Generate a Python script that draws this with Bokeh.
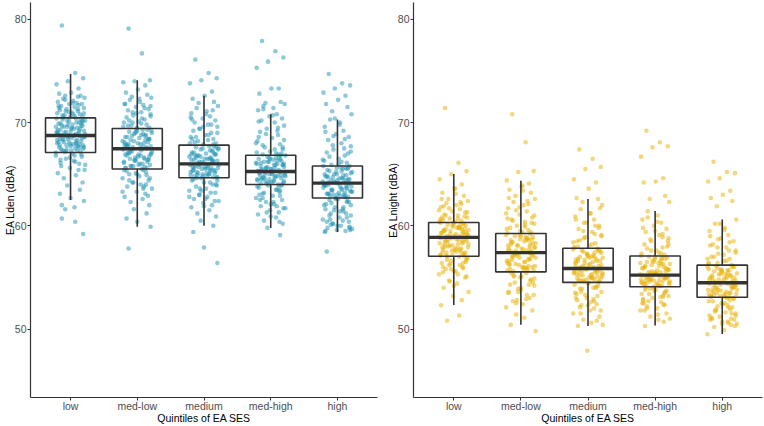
from bokeh.plotting import figure
from bokeh.layouts import row
from bokeh.embed import file_html
from bokeh.resources import INLINE

categories = ["low", "med-low", "medium", "med-high", "high"]
x_title = "Quintiles of EA SES"

# Box statistics: whisker low, Q1, median, Q3, whisker high
lden_wlo = [62.5, 59.9, 60.0, 59.8, 59.4]
lden_q1 = [67.1, 65.5, 64.65, 64.0, 62.7]
lden_med = [68.75, 67.47, 66.0, 65.26, 64.13]
lden_q3 = [70.45, 69.42, 67.82, 66.83, 65.8]
lden_whi = [74.7, 74.1, 72.6, 70.8, 70.3]

lnight_wlo = [52.34, 50.42, 50.29, 50.35, 49.52]
lnight_q1 = [57.05, 55.54, 54.52, 54.1, 53.08]
lnight_med = [58.88, 57.4, 55.87, 55.22, 54.49]
lnight_q3 = [60.32, 59.26, 57.82, 57.08, 56.19]
lnight_whi = [65.03, 64.36, 62.6, 61.44, 60.61]

# horizontal jitter (category units)
jitter = [-0.13, 0.07, 0.19, -0.04, -0.21, 0.12, 0.01, -0.17, 0.15, -0.08,
          0.21, -0.11, 0.04, -0.19, 0.09, -0.02, 0.17, -0.14, 0.06, 0.2,
          -0.06, -0.16, 0.11, 0.02, -0.2, 0.14, -0.09, 0.18, -0.01, 0.08,
          -0.12, 0.22, -0.05, 0.13, -0.18, 0.03, 0.16, -0.1, -0.22, 0.1,
          0.05, -0.15, 0.2, -0.07, 0.0, 0.12, -0.19, 0.08, -0.03, 0.18,
          -0.13, 0.14, -0.21, 0.06, -0.08, 0.21, 0.02, -0.16, 0.1, -0.11,
          0.16, -0.02, -0.2, 0.04, 0.19, -0.06, 0.11, -0.17, 0.07, -0.14,
          0.01, 0.15, -0.09, 0.2, -0.04, -0.18, 0.09, 0.13, -0.12, 0.03,
          -0.22, 0.17, -0.07, 0.05, -0.15, 0.22, -0.01, 0.12, -0.19, 0.08,
          -0.1, 0.18, -0.05, 0.14, -0.16, 0.0, 0.2, -0.13, 0.06, -0.08]
jitter2 = [0.03, -0.18, 0.11, -0.07, 0.2, -0.12, 0.06, -0.21, 0.15, -0.02,
           0.09, -0.15, 0.18, -0.05, 0.01, -0.19, 0.13, -0.09, 0.22, -0.13,
           0.05, -0.03, 0.17, -0.2, 0.08, -0.1, 0.14, -0.16, 0.0, 0.19,
           -0.06, 0.1, -0.22, 0.16, -0.01, 0.07, -0.14, 0.21, -0.08, 0.12,
           -0.17, 0.04, -0.11, 0.18, -0.04, 0.02, -0.2, 0.14, -0.12, 0.09,
           0.2, -0.07, 0.06, -0.15, 0.11, -0.02, 0.16, -0.18, 0.0, 0.13]

# ---- EA Lden points (dBA) ----
lden_low = [79.4, 74.8, 74.3, 74.0, 73.7, 73.3, 72.9, 72.8, 72.6, 72.6, 72.4, 72.3, 72.1, 72.0, 71.9,
            71.8, 71.8, 71.6, 71.5, 71.4, 71.3, 71.2, 71.1, 71.0, 70.9, 70.8, 70.7, 70.6, 70.5,
            70.4, 70.3, 70.2, 70.2, 70.0, 69.9, 69.8, 69.7, 69.6, 69.6, 69.5, 69.4, 69.3, 69.2, 69.1,
            69.1, 69.0, 68.9, 68.9, 68.8, 70.1, 69.7, 69.4, 69.0, 68.8,
            68.7, 68.6, 68.5, 68.4, 68.3, 68.3, 68.2, 68.1, 68.0, 67.9, 67.8, 67.8, 67.7, 67.6, 67.5,
            67.4, 67.3, 67.2, 67.2, 68.6, 68.4, 68.1, 67.9, 67.6, 67.3,
            67.0, 66.8, 66.7, 66.5, 66.3, 66.1, 65.9, 65.6, 65.4, 65.1, 64.9, 64.6, 64.2, 63.9, 63.5,
            63.1, 62.7, 62.4, 62.0, 61.8, 61.6, 60.7, 60.4, 59.2]
lden_low_core = [71.9, 71.6, 71.3, 71.1, 70.9, 70.7, 70.6, 70.4, 70.3, 70.1, 70.0, 69.9, 69.7, 69.6,
                 69.4, 69.3, 69.2, 69.0, 68.9, 68.8, 68.7, 68.6, 68.5, 68.3, 68.2, 68.1, 67.9, 67.8,
                 67.7, 67.5, 67.4, 67.3, 67.1, 66.9, 66.6, 66.2, 65.8, 65.4, 72.2, 71.7, 71.4, 70.8,
                 70.5, 70.2, 69.8, 69.5, 69.1, 68.7, 68.4, 68.0, 67.6, 67.2, 66.8, 66.4, 72.5, 71.0,
                 69.9, 68.9, 67.9, 66.0]
lden_medlow = [79.1, 76.7, 74.1, 74.0, 73.9, 73.6, 73.2, 72.9, 72.7, 72.5, 72.4, 72.2, 72.0, 71.8,
               71.7, 71.5, 71.3, 71.2, 71.0, 70.8, 70.7, 70.5, 70.3, 70.1, 70.0, 69.8, 69.7, 69.5,
               69.4, 69.3, 69.1, 69.0, 68.9, 68.8, 68.6, 68.5, 68.4, 68.3, 68.2, 68.0, 67.9, 67.8,
               67.7, 67.6, 69.2, 68.7, 68.1, 67.6, 69.0, 68.4, 67.9, 67.5,
               67.4, 67.3, 67.2, 67.0, 66.9, 66.8, 66.6, 66.5, 66.4, 66.3, 66.1, 66.0, 65.9, 65.8,
               65.7, 65.6, 65.5, 67.1, 66.7, 66.2, 65.8, 66.9, 66.4, 65.6,
               65.4, 65.2, 65.0, 64.8, 64.6, 64.4, 64.2, 64.0, 63.8, 63.6, 63.3, 63.1, 62.8, 62.6,
               62.3, 62.0, 61.6, 61.2, 60.7, 60.4, 59.9, 57.8]
lden_medlow_core = [72.3, 71.8, 71.4, 71.0, 70.6, 70.2, 69.9, 69.6, 69.3, 69.1, 68.9, 68.6, 68.4,
                    68.2, 68.0, 67.8, 67.6, 67.4, 67.2, 67.0, 66.8, 66.6, 66.4, 66.2, 66.0, 65.8,
                    65.6, 65.3, 65.0, 64.6, 64.2, 63.8, 63.3, 62.9, 70.9, 70.4, 69.7, 69.2, 68.7,
                    68.3, 67.9, 67.5, 67.1, 66.7, 66.3, 65.9, 65.4, 64.9, 64.4, 63.6, 71.6, 70.0,
                    68.8, 67.7, 66.5, 65.1, 68.1, 66.9, 69.5, 64.0]
lden_medium = [76.1, 74.8, 74.3, 74.1, 73.8, 73.0, 72.6, 72.3, 72.0, 71.9, 71.6, 71.4, 71.1, 70.9,
               70.6, 70.4, 70.2, 70.0, 69.8, 69.6, 69.4, 69.2, 69.0, 68.8, 68.6, 68.4, 68.2, 68.0, 67.9,
               67.7, 67.6, 67.5, 67.4, 67.2, 67.1, 67.0, 66.9, 66.8, 66.7, 66.6, 66.5, 66.4, 66.3,
               66.2, 66.1, 67.3, 66.9, 66.5, 66.2, 67.6, 66.8, 66.3,
               65.9, 65.8, 65.7, 65.6, 65.5, 65.4, 65.3, 65.2, 65.1, 65.0, 64.9, 64.8, 64.7, 65.9,
               65.6, 65.3, 65.0, 64.8, 65.7, 65.4, 65.1, 64.7,
               64.6, 64.4, 64.2, 64.0, 63.8, 63.6, 63.4, 63.2, 63.0, 62.8, 62.6, 62.4, 62.2, 62.0,
               61.8, 61.5, 61.2, 60.9, 60.5, 60.0, 59.4, 57.9, 56.4]
lden_medium_core = [70.8, 70.3, 69.8, 69.4, 69.0, 68.6, 68.3, 68.0, 67.7, 67.5, 67.3, 67.1, 66.9,
                    66.7, 66.5, 66.4, 66.2, 66.1, 65.9, 65.8, 65.6, 65.5, 65.3, 65.2, 65.0, 64.9,
                    64.7, 64.5, 64.2, 63.9, 63.6, 63.2, 62.8, 62.4, 69.6, 68.8, 68.1, 67.4, 66.8,
                    66.3, 65.7, 65.1, 64.6, 64.0, 63.4, 62.6, 70.5, 67.9, 66.6, 65.4, 64.4, 63.0,
                    66.0, 65.6, 66.5, 64.8, 67.0, 68.4, 61.9, 71.2]
lden_medhigh = [77.9, 76.9, 76.3, 75.9, 75.3, 73.3, 73.3, 72.8, 72.0, 71.9, 71.8, 71.6, 71.4, 71.2,
                70.8, 70.6, 70.4, 70.2, 70.0, 69.7, 69.4, 69.1, 68.8, 68.5, 68.2, 67.9, 67.6, 67.4,
                67.2, 67.0, 66.9,
                66.8, 66.7, 66.6, 66.5, 66.4, 66.3, 66.2, 66.1, 66.0, 65.9, 65.8, 65.7, 65.6, 65.5,
                65.4, 65.3, 66.6, 66.2, 65.9, 65.5, 66.4, 66.0, 65.6,
                65.2, 65.1, 65.0, 64.9, 64.8, 64.7, 64.6, 64.5, 64.4, 64.3, 64.2, 64.1, 64.0, 65.1,
                64.8, 64.5, 64.2, 64.9, 64.6, 64.3,
                63.9, 63.7, 63.5, 63.3, 63.1, 62.9, 62.7, 62.5, 62.3, 62.1, 61.9, 61.7, 61.5, 61.3,
                61.1, 60.8, 60.5, 60.2, 59.8, 59.1]
lden_medhigh_core = [70.7, 70.1, 69.5, 68.9, 68.3, 67.8, 67.4, 67.1, 66.8, 66.6, 66.3, 66.1, 65.9,
                     65.7, 65.5, 65.3, 65.2, 65.0, 64.8, 64.6, 64.4, 64.2, 64.0, 63.8, 63.5, 63.2,
                     62.9, 62.5, 62.1, 61.7, 61.3, 69.2, 68.0, 67.0, 66.5, 65.9, 65.4, 64.9, 64.3,
                     63.7, 63.0, 62.3, 71.3, 67.6, 66.2, 65.1, 64.5, 63.4, 62.7, 61.9, 66.0, 65.6,
                     64.7, 64.1, 66.9, 65.0, 63.9, 68.6, 60.9, 60.4]
lden_high = [74.7, 73.8, 73.6, 73.3, 72.9, 72.6, 72.2, 71.8, 71.5, 71.1, 70.8, 70.3, 70.0, 69.6,
             69.2, 68.9, 68.6, 68.3, 68.0, 67.7, 67.4, 67.1, 66.8, 66.5, 66.3, 66.1, 65.9,
             65.8, 65.6, 65.5, 65.3, 65.2, 65.0, 64.9, 64.8, 64.6, 64.5, 64.4, 64.3, 64.2, 65.7,
             65.4, 65.1, 64.7, 64.4, 65.6, 65.0, 64.6, 64.2,
             64.1, 64.0, 63.9, 63.7, 63.6, 63.5, 63.3, 63.2, 63.1, 63.0, 62.9, 62.8, 62.7, 64.0,
             63.8, 63.4, 63.0, 62.8, 63.9, 63.5, 63.1,
             62.6, 62.4, 62.2, 62.0, 61.8, 61.6, 61.4, 61.2, 61.0, 60.8, 60.6, 60.4, 60.2, 60.0,
             59.8, 59.7, 59.6, 59.5, 59.4, 60.5, 60.1, 59.9, 61.5, 62.3, 57.5]
lden_high_core = [69.8, 69.1, 68.4, 67.8, 67.2, 66.7, 66.2, 65.8, 65.5, 65.2, 64.9, 64.7, 64.5, 64.3,
                  64.1, 63.9, 63.7, 63.5, 63.3, 63.1, 62.9, 62.6, 62.3, 62.0, 61.6, 61.2, 60.8,
                  60.4, 60.0, 59.6, 68.7, 67.5, 66.4, 65.6, 65.0, 64.6, 64.2, 63.8, 63.4, 62.8,
                  62.1, 61.4, 60.6, 59.8, 70.4, 66.0, 64.0, 63.6, 62.5, 61.8, 61.0, 60.2, 65.3,
                  64.8, 63.2, 62.7, 67.0, 59.5, 63.0, 64.4]

# ---- EA Lnight points (dBA) ----
lnight_low = [71.4, 66.1, 65.3, 65.0, 64.5, 64.0, 63.6, 63.2, 62.9, 62.6, 62.4, 62.2, 62.0, 61.8,
              61.6, 61.4, 61.3, 61.1, 61.0, 60.8, 60.7, 60.6, 60.5, 60.4,
              60.3, 60.2, 60.1, 60.0, 59.9, 59.8, 59.7, 59.6, 59.5, 59.4, 59.3, 59.2, 59.1, 59.0,
              58.9, 60.1, 59.8, 59.5, 59.2, 58.9, 60.2, 59.7, 59.3, 59.0,
              58.8, 58.7, 58.6, 58.4, 58.3, 58.2, 58.0, 57.9, 57.8, 57.7, 57.5, 57.4, 57.3, 57.2,
              57.1, 58.7, 58.5, 58.1, 57.8, 57.4, 58.6, 58.2, 57.6, 57.1,
              57.0, 56.8, 56.6, 56.4, 56.2, 56.0, 55.8, 55.6, 55.3, 55.0, 54.7, 54.4, 54.0, 53.6,
              53.2, 52.8, 52.3, 51.3, 50.8, 56.7, 56.3, 55.9, 55.5]
lnight_low_core = [63.1, 62.6, 62.1, 61.7, 61.3, 61.0, 60.7, 60.4, 60.2, 60.0, 59.8, 59.6, 59.4,
                   59.2, 59.0, 58.8, 58.6, 58.4, 58.2, 58.0, 57.8, 57.6, 57.4, 57.2, 57.0, 56.7,
                   56.4, 56.0, 55.6, 55.1, 54.6, 62.3, 61.5, 60.9, 60.3, 59.9, 59.5, 59.1, 58.7,
                   58.3, 57.9, 57.5, 57.1, 56.5, 55.8, 63.6, 60.6, 59.3, 58.5, 57.7, 56.9, 56.2,
                   55.3, 61.9, 58.9, 58.1, 59.7, 60.8, 54.2, 57.3]
lnight_medlow = [70.8, 68.1, 65.3, 65.2, 64.4, 64.1, 63.8, 63.5, 63.2, 62.9, 62.6, 62.3, 62.0, 61.7,
                 61.4, 61.1, 60.8, 60.6, 60.4, 60.2, 60.0, 59.8, 59.6, 59.4, 59.3,
                 59.2, 59.0, 58.9, 58.7, 58.6, 58.4, 58.3, 58.1, 58.0, 57.8, 57.7, 57.5, 57.4, 59.1,
                 58.8, 58.5, 58.2, 57.9, 57.6, 59.0, 58.6, 58.1, 57.6,
                 57.3, 57.1, 57.0, 56.8, 56.6, 56.5, 56.3, 56.1, 56.0, 55.8, 55.7, 55.6, 57.2, 56.9,
                 56.4, 56.0, 55.7, 57.1, 56.7, 56.2, 55.9,
                 55.4, 55.1, 54.8, 54.5, 54.2, 53.9, 53.6, 53.3, 53.0, 52.7, 52.4, 52.1, 51.8, 51.4,
                 51.1, 50.4, 49.8, 55.0, 54.3, 53.5, 52.9]
lnight_medlow_core = [63.4, 62.7, 62.1, 61.5, 61.0, 60.5, 60.1, 59.7, 59.4, 59.1, 58.8, 58.6, 58.3,
                      58.1, 57.8, 57.6, 57.4, 57.2, 56.9, 56.7, 56.5, 56.2, 56.0, 55.7, 55.4, 55.1,
                      54.7, 54.3, 53.8, 53.3, 52.8, 62.4, 61.2, 60.3, 59.5, 58.9, 58.4, 57.9, 57.3,
                      56.8, 56.3, 55.8, 55.2, 54.5, 53.6, 63.9, 60.7, 58.2, 57.0, 55.9, 54.9, 52.5,
                      59.9, 57.5, 56.1, 61.8, 58.7, 56.6, 54.0, 57.7]
lnight_medium = [67.4, 66.5, 65.7, 65.5, 64.5, 64.2, 63.6, 62.7, 62.6, 62.3, 62.0, 61.6, 61.2, 60.9,
                 60.6, 60.3, 60.0, 59.7, 59.4, 59.1, 58.8, 58.5, 58.3, 58.1, 57.9,
                 57.8, 57.6, 57.5, 57.3, 57.2, 57.0, 56.9, 56.7, 56.6, 56.4, 56.3, 56.1, 56.0, 57.7,
                 57.4, 57.0, 56.6, 56.2, 57.5, 57.1, 56.8, 56.4, 56.0,
                 55.8, 55.7, 55.6, 55.5, 55.4, 55.3, 55.2, 55.1, 55.0, 54.9, 54.8, 54.7, 54.6, 55.8,
                 55.5, 55.2, 54.9, 54.6, 55.7, 55.3, 55.0, 54.7,
                 54.5, 54.2, 53.9, 53.6, 53.3, 53.0, 52.7, 52.4, 52.1, 51.8, 51.5, 51.2, 50.9, 50.6,
                 50.3, 50.4, 47.9, 54.0, 53.5, 52.9, 52.3]
lnight_medium_core = [61.2, 60.6, 60.0, 59.5, 59.0, 58.6, 58.2, 57.9, 57.6, 57.3, 57.0, 56.8, 56.6,
                      56.4, 56.2, 56.0, 55.8, 55.6, 55.4, 55.2, 55.0, 54.8, 54.6, 54.3, 54.0, 53.6,
                      53.2, 52.8, 52.3, 51.8, 60.3, 59.2, 58.4, 57.7, 57.1, 56.5, 55.9, 55.3, 54.7,
                      54.1, 53.4, 52.6, 51.5, 61.7, 58.9, 56.9, 55.7, 55.1, 53.9, 52.0, 57.4, 56.1,
                      54.9, 58.0, 55.5, 53.0, 59.8, 56.7, 54.4, 50.8]
lnight_medhigh = [69.2, 68.1, 67.7, 67.6, 66.7, 64.6, 64.3, 64.2, 62.9, 62.6, 62.3, 61.4, 61.0, 60.6,
                  60.3, 60.0, 59.7, 59.4, 59.1, 58.8, 58.5, 58.2, 57.9, 57.6, 57.3, 57.2,
                  57.0, 56.9, 56.7, 56.6, 56.5, 56.3, 56.2, 56.0, 55.9, 55.7, 55.6, 55.5, 55.3, 56.8,
                  56.4, 56.1, 55.8, 55.4, 56.9, 56.3, 55.9, 55.5,
                  55.2, 55.1, 55.0, 54.9, 54.8, 54.7, 54.6, 54.5, 54.4, 54.3, 54.2, 55.1, 54.9, 54.7,
                  54.5, 54.3, 55.0, 54.8, 54.6, 54.4, 54.2,
                  54.0, 53.8, 53.6, 53.4, 53.2, 53.0, 52.8, 52.6, 52.4, 52.2, 52.0, 51.8, 51.5, 51.2,
                  50.9, 50.3, 51.0, 53.7, 53.1, 52.5]
lnight_medhigh_core = [60.4, 59.8, 59.2, 58.7, 58.2, 57.8, 57.4, 57.1, 56.8, 56.5, 56.3, 56.0, 55.8,
                       55.6, 55.4, 55.2, 55.0, 54.8, 54.6, 54.4, 54.2, 54.0, 53.7, 53.4, 53.1, 52.7,
                       52.3, 51.8, 59.5, 58.5, 57.6, 56.9, 56.4, 55.9, 55.5, 55.1, 54.7, 54.3, 53.9,
                       53.3, 52.5, 51.4, 60.8, 58.0, 56.6, 55.3, 54.5, 53.5, 52.0, 57.3, 55.7, 54.9,
                       56.1, 53.8, 58.9, 54.1, 55.0, 52.9, 57.0, 50.7]
lnight_high = [66.2, 65.2, 65.1, 64.6, 64.3, 63.4, 63.0, 62.7, 62.4, 61.9, 60.6, 60.2, 59.8, 59.5,
               59.1, 58.8, 58.5, 58.2, 57.9, 57.6, 57.3, 57.0, 56.8, 56.6, 56.4, 56.2,
               56.1, 56.0, 55.8, 55.7, 55.6, 55.4, 55.3, 55.1, 55.0, 54.9, 54.7, 54.6, 56.0, 55.7,
               55.3, 55.0, 54.7, 55.9, 55.5, 55.2, 54.8,
               54.4, 54.3, 54.2, 54.0, 53.9, 53.8, 53.6, 53.5, 53.4, 53.3, 53.2, 53.1, 54.3, 54.0,
               53.7, 53.4, 53.1, 54.1, 53.8, 53.5, 53.2,
               53.0, 52.7, 52.4, 52.1, 51.8, 51.5, 51.2, 50.9, 50.6, 50.4, 50.2, 49.9, 49.5, 52.9,
               52.2, 51.6, 51.0, 50.5, 52.5, 51.9, 51.3, 50.7]
lnight_high_core = [59.6, 59.0, 58.4, 57.9, 57.4, 57.0, 56.6, 56.3, 56.0, 55.7, 55.4, 55.2, 55.0,
                    54.8, 54.6, 54.4, 54.2, 54.0, 53.8, 53.6, 53.4, 53.2, 53.0, 52.7, 52.3, 51.9,
                    51.5, 51.1, 50.7, 50.3, 58.7, 57.6, 56.8, 56.1, 55.6, 55.1, 54.7, 54.3, 53.9,
                    53.5, 53.1, 52.5, 51.7, 50.9, 60.2, 57.2, 55.8, 54.5, 53.3, 52.1, 51.3, 56.4,
                    54.9, 53.7, 52.8, 55.3, 54.1, 58.1, 50.5, 51.0]

lden_points = [lden_low, lden_medlow, lden_medium, lden_medhigh, lden_high]
lden_core = [lden_low_core, lden_medlow_core, lden_medium_core, lden_medhigh_core, lden_high_core]
lnight_points = [lnight_low, lnight_medlow, lnight_medium, lnight_medhigh, lnight_high]
lnight_core = [lnight_low_core, lnight_medlow_core, lnight_medium_core, lnight_medhigh_core,
               lnight_high_core]

FONT = "Liberation Sans"


def make_panel(points, core, wlo, q1, med, q3, whi, color, ylabel, width, border_right):
    p = figure(width=width, height=426, x_range=(0.4, 5.6), y_range=(43.37, 81.63),
               output_backend="svg", toolbar_location=None,
               min_border_top=2, min_border_left=0, min_border_right=border_right,
               min_border_bottom=29)
    p.background_fill_color = "white"
    p.border_fill_color = "white"
    p.outline_line_color = None
    p.xgrid.visible = False
    p.ygrid.visible = False

    xs, ys = [], []
    for i, vals in enumerate(points):
        for j, v in enumerate(vals):
            xs.append(i + 1 + jitter[j % len(jitter)])
            ys.append(v)
    for i, vals in enumerate(core):
        for j, v in enumerate(vals):
            xs.append(i + 1 + jitter2[j % len(jitter2)])
            ys.append(v)
    p.scatter(xs, ys, size=4.6, fill_color=color, fill_alpha=0.5, line_color=None)

    pos = list(range(1, len(categories) + 1))
    p.segment(x0=pos, y0=wlo, x1=pos, y1=q1, line_color="#333333", line_width=1.6)
    p.segment(x0=pos, y0=q3, x1=pos, y1=whi, line_color="#333333", line_width=1.6)
    p.quad(left=[x - 0.375 for x in pos], right=[x + 0.375 for x in pos],
           bottom=q1, top=q3, fill_color=None, line_color="#333333", line_width=1.6)
    p.segment(x0=[x - 0.375 for x in pos], y0=med, x1=[x + 0.375 for x in pos], y1=med,
              line_color="#333333", line_width=3.4)

    p.xaxis.ticker = pos
    p.xaxis.major_label_overrides = {x: c for x, c in zip(pos, categories)}
    p.yaxis.ticker = [50, 60, 70, 80]
    p.xaxis.axis_label = x_title
    p.yaxis.axis_label = ylabel
    for ax in (p.xaxis[0], p.yaxis[0]):
        ax.axis_line_color = "#333333"
        ax.axis_line_width = 1.2
        ax.major_tick_line_color = "#333333"
        ax.major_tick_in = 0
        ax.major_tick_out = 3
        ax.minor_tick_line_color = None
        ax.major_label_text_font = FONT
        ax.major_label_text_font_size = "10.5px"
        ax.major_label_text_color = "#4D4D4D"
        ax.axis_label_text_font = FONT
        ax.axis_label_text_font_size = "10.5px"
        ax.axis_label_text_font_style = "normal"
        ax.axis_label_text_color = "black"
    p.xaxis[0].major_label_standoff = -1
    p.xaxis[0].axis_label_standoff = -3
    p.yaxis[0].major_label_standoff = 1
    p.yaxis[0].axis_label_standoff = -4
    return p


p1 = make_panel(lden_points, lden_core, lden_wlo, lden_q1, lden_med, lden_q3, lden_whi,
                "#1F93B3", "EA Lden (dBA)", 383, 6)
p2 = make_panel(lnight_points, lnight_core, lnight_wlo, lnight_q1, lnight_med, lnight_q3,
                lnight_whi, "#E7B000", "EA Lnight (dBA)", 380, 1)

layout = row(p1, p2)
open("out.html", "w").write(file_html(layout, INLINE))
